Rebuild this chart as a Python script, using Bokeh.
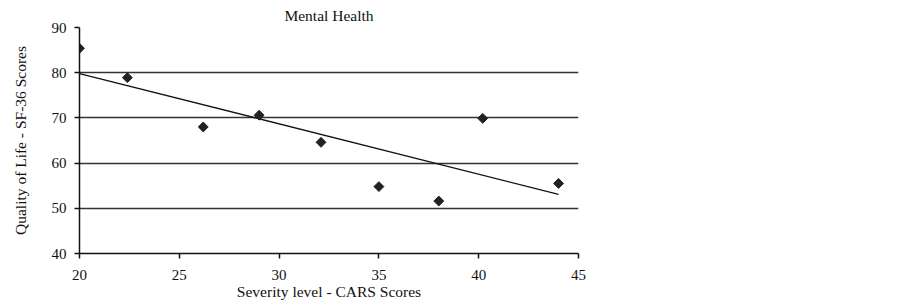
import numpy as np
from bokeh.plotting import figure
from bokeh.models import Range1d, FixedTicker
from bokeh.embed import file_html
from bokeh.resources import INLINE

# Data
cars_scores = [20.0, 22.4, 26.2, 29.0, 32.1, 35.0, 38.0, 40.2, 44.0]
sf36_mental = [85.4, 78.9, 68.0, 70.6, 64.6, 54.8, 51.6, 69.9, 55.5]
x_ticks = [20, 25, 30, 35, 40, 45]
y_ticks = [40, 50, 60, 70, 80, 90]
chart_title = "Mental Health"

FONT = "Liberation Serif"

p = figure(width=886, height=302, output_backend="svg", toolbar_location=None,
           x_range=Range1d(20, 45), y_range=Range1d(40, 90),
           min_border_left=79, min_border_right=308, min_border_top=27, min_border_bottom=49,
           title=chart_title)
p.title.text_font = FONT
p.title.text_font_size = "15.5px"
p.title.text_font_style = "normal"
p.title.text_color = "#111111"
p.title.align = "center"
p.title.standoff = 7
p.title.offset = 2
p.outline_line_color = None

p.xgrid.visible = False
p.ygrid.ticker = FixedTicker(ticks=y_ticks)
p.ygrid.grid_line_color = "#333333"
p.ygrid.grid_line_width = 1.5

for ax in (p.xaxis, p.yaxis):
    ax.axis_line_color = "#111111"
    ax.axis_line_width = 1.5
    ax.major_tick_line_color = "#111111"
    ax.major_tick_line_width = 1.5
    ax.major_tick_out = 5
    ax.major_tick_in = 0
    ax.minor_tick_line_color = None
    ax.major_label_text_font = FONT
    ax.major_label_text_font_size = "15px"
    ax.major_label_text_color = "#111111"
    ax.axis_label_text_font = FONT
    ax.axis_label_text_font_size = "15.5px"
    ax.axis_label_text_font_style = "normal"
    ax.axis_label_text_color = "#111111"

p.xaxis.ticker = FixedTicker(ticks=x_ticks)
p.yaxis.ticker = FixedTicker(ticks=y_ticks)
p.xaxis.axis_label = "Severity level - CARS Scores"
p.yaxis.axis_label = "Quality of Life - SF-36 Scores"
p.xaxis.major_label_standoff = 11
p.xaxis.axis_label_standoff = 0
p.yaxis.major_label_standoff = 8
p.yaxis.axis_label_standoff = 20

# Linear trend line
slope, intercept = np.polyfit(cars_scores, sf36_mental, 1)
tx = [min(cars_scores), max(cars_scores)]
ty = [slope * v + intercept for v in tx]
p.line(tx, ty, line_color="#111111", line_width=1.3)

p.scatter(cars_scores, sf36_mental, marker="square", size=7, angle=np.pi / 4,
          fill_color="#222222", line_color="#222222")

open("out.html", "w").write(file_html(p, INLINE))
